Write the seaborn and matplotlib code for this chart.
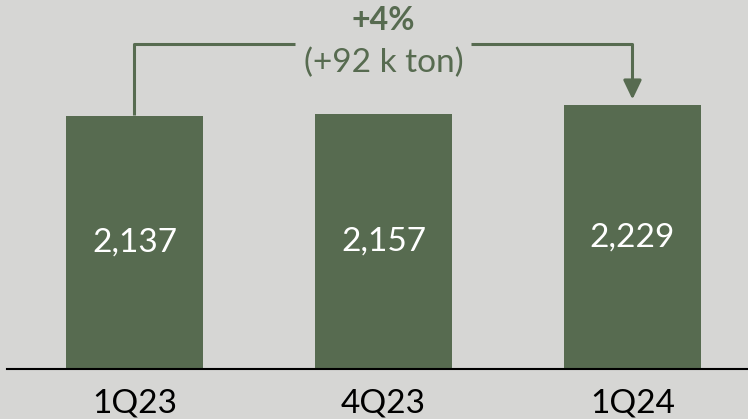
import numpy as np
import pandas as pd
import matplotlib.pyplot as plt
import seaborn as sns

quarters = ['1Q23', '4Q23', '1Q24']
volumes = [2137, 2157, 2229]
change_pct = '+4%'
change_abs = '(+92 k ton)'

bg = '#D6D6D4'
green = '#576B50'

sns.set_style('white')
plt.rcParams['font.family'] = ['Lato', 'DejaVu Sans']

df = pd.DataFrame({'quarter': quarters, 'volume': volumes})

fig = plt.figure(figsize=(7.48, 4.19), dpi=100, facecolor=bg)
ax = fig.add_axes([7 / 748, 50 / 419, 741 / 748, 369 / 419])
ax.set_facecolor(bg)

sns.barplot(data=df, x='quarter', y='volume', color=green, width=0.55,
            saturation=1, linewidth=0, edgecolor=green, ax=ax)

ax.set_xlim(-0.512, 2.464)
ax.set_ylim(0, 3120)

for i, v in enumerate(volumes):
    ax.text(i, v / 2, f'{v:,}', ha='center', va='center', color='white',
            fontsize=24)

# bracket from first to last bar
top = 2752
x0, x1 = 0, len(volumes) - 1
ax.plot([x0, x0, 0.645], [volumes[0] + 12, top, top], color=green, lw=2.2,
        solid_capstyle='butt')
ax.plot([1.35, x1, x1], [top, top, volumes[-1] + 150], color=green, lw=2.2,
        solid_capstyle='butt')
ax.annotate('', xy=(x1, volumes[-1] + 50), xytext=(x1, volumes[-1] + 200),
            arrowprops=dict(arrowstyle='-|>,head_length=1.15,head_width=0.55',
                            color=green, lw=2.2, shrinkA=0, shrinkB=0))
ax.text(1, 2950, change_pct, ha='center', va='center', color=green,
        fontsize=23, fontweight='bold')
ax.text(1, 2590, change_abs, ha='center', va='center', color=green,
        fontsize=24)

sns.despine(ax=ax, left=True)
ax.spines['bottom'].set_color('black')
ax.spines['bottom'].set_linewidth(1.5)
ax.set_yticks([])
ax.set_xlabel('')
ax.set_ylabel('')
ax.tick_params(axis='x', length=0, pad=14, labelsize=24, colors='black')

fig.savefig('out.png', dpi=100, facecolor=bg)
